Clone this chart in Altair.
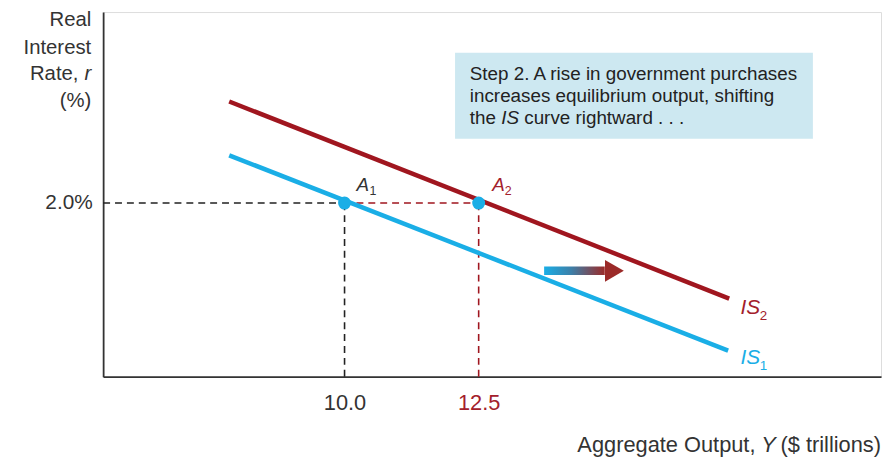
import altair as alt
import pandas as pd

# ---------------- data ----------------
x_domain = [5.5, 20.0]
y_domain = [0.0, 4.2]

is1_x = [7.85, 17.15]
is1_y = [2.55, 0.30]
is2_x = [7.85, 17.17]
is2_y = [3.17, 0.90]

eq_x = [10.0, 12.5]
eq_r = [2.0, 2.0]
eq_names = ["A", "A"]
eq_subs = ["1", "2"]

x_ticks = [10.0, 12.5]
y_ticks = [2.0]

box_x = [12.06, 18.73]
box_y = [2.74, 3.73]
box_lines = ["Step 2. A rise in government purchases",
             "increases equilibrium output, shifting"]
box_line_y = [3.49, 3.235]
box_last = ["the", "IS", "curve rightward . . ."]

arrow_x = [13.72, 14.85]
arrow_y = [1.17, 1.27]
arrow_head = [15.03, 1.22]

BLUE = "#1aaee6"
RED = "#a0161f"
RED_TXT = "#a3202b"
GREY = "#333333"
FONT = "Liberation Sans"
PXU = 785 / (x_domain[1] - x_domain[0])  # pixels per x unit

xs = alt.Scale(domain=x_domain, nice=False, zero=False)
ys = alt.Scale(domain=y_domain, nice=False, zero=False)

x_axis = alt.Axis(values=x_ticks, format=".1f", title=None, ticks=False, grid=False,
                  labelFontSize=22, labelFont=FONT, labelPadding=16,
                  labelColor=alt.condition("datum.value == 12.5", alt.value(RED_TXT), alt.value(GREY)),
                  domainColor=GREY, domainWidth=1.8)
y_axis = alt.Axis(values=y_ticks, labelExpr="format(datum.value, '.1f') + '%'", title=None,
                  ticks=False, grid=False, labelFontSize=21, labelFont=FONT, labelPadding=11,
                  labelColor=GREY, domainColor=GREY, domainWidth=1.8)


def X(f):
    return alt.X(f, type="quantitative", scale=xs, axis=x_axis)


def Y(f):
    return alt.Y(f, type="quantitative", scale=ys, axis=y_axis)


# box
box_df = pd.DataFrame({"x": [box_x[0]], "x2": [box_x[1]], "y": [box_y[0]], "y2": [box_y[1]]})
box = alt.Chart(box_df).mark_rect(color="#cde8f1").encode(x=X("x"), x2="x2", y=Y("y"), y2="y2")

BFS = 19
bx0 = box_x[0] + 0.275
box_txt_df = pd.DataFrame({"t": box_lines, "x": [bx0] * 2, "y": box_line_y})
box_txt = alt.Chart(box_txt_df).mark_text(align="left", baseline="middle", fontSize=BFS,
                                          font=FONT, color="#222222").encode(
    x=X("x"), y=Y("y"), text="t")

last_y = 2.98
w_the = (0.278 + 0.556 + 0.556 + 0.278) * BFS / PXU
w_is = (0.278 + 0.667 + 0.278) * BFS / PXU
last_df = pd.DataFrame({"t": box_last, "x": [bx0, bx0 + w_the, bx0 + w_the + w_is],
                        "y": [last_y] * 3, "st": ["normal", "italic", "normal"]})
last_norm = alt.Chart(last_df[last_df.st == "normal"]).mark_text(
    align="left", baseline="middle", fontSize=BFS, font=FONT, color="#222222").encode(
    x=X("x"), y=Y("y"), text="t")
last_it = alt.Chart(last_df[last_df.st == "italic"]).mark_text(
    align="left", baseline="middle", fontSize=BFS, font=FONT, fontStyle="italic", color="#222222").encode(
    x=X("x"), y=Y("y"), text="t")

# dashed guides
black_df = pd.DataFrame({"x": [x_domain[0], eq_x[0]], "x2": [eq_x[0], eq_x[0]],
                         "y": [eq_r[0], 0.0], "y2": [eq_r[0], eq_r[0]]})
red_df = pd.DataFrame({"x": [eq_x[0], eq_x[1]], "x2": [eq_x[1], eq_x[1]],
                       "y": [eq_r[1], 0.0], "y2": [eq_r[1], eq_r[1]]})
black_rules = alt.Chart(black_df).mark_rule(color="#222222", strokeWidth=1.6, strokeDash=[7, 5]).encode(
    x=X("x"), x2="x2", y=Y("y"), y2="y2")
red_rules = alt.Chart(red_df).mark_rule(color=RED, strokeWidth=1.6, strokeDash=[7, 5]).encode(
    x=X("x"), x2="x2", y=Y("y"), y2="y2")

# IS curves
is1 = alt.Chart(pd.DataFrame({"x": is1_x, "y": is1_y})).mark_line(
    color=BLUE, strokeWidth=4.5, strokeCap="butt").encode(x=X("x"), y=Y("y"))
is2 = alt.Chart(pd.DataFrame({"x": is2_x, "y": is2_y})).mark_line(
    color=RED, strokeWidth=4.5, strokeCap="butt").encode(x=X("x"), y=Y("y"))

# points
pts = alt.Chart(pd.DataFrame({"x": eq_x, "y": eq_r})).mark_circle(
    color=BLUE, size=170, opacity=1).encode(x=X("x"), y=Y("y"))

# point labels
lab_df = pd.DataFrame({"t": eq_names, "x": [10.34, 12.87], "y": [2.21, 2.21],
                       "c": [GREY, RED_TXT]})
sub_df = pd.DataFrame({"t": eq_subs, "x": [10.53, 13.05], "y": [2.135, 2.135],
                       "c": [GREY, RED_TXT]})
labs = alt.Chart(lab_df).mark_text(fontSize=19, font=FONT, fontStyle="italic", baseline="middle").encode(
    x=X("x"), y=Y("y"), text="t", color=alt.Color("c:N", scale=None))
subs = alt.Chart(sub_df).mark_text(fontSize=12.5, font=FONT, baseline="middle").encode(
    x=X("x"), y=Y("y"), text="t", color=alt.Color("c:N", scale=None))

# curve labels
is_lab_df = pd.DataFrame({"t": ["IS", "IS"], "x": [17.38, 17.38], "y": [0.79, 0.21],
                          "c": [RED_TXT, BLUE]})
is_sub_df = pd.DataFrame({"t": ["2", "1"], "x": [17.74, 17.74], "y": [0.70, 0.12],
                          "c": [RED_TXT, BLUE]})
is_labs = alt.Chart(is_lab_df).mark_text(fontSize=21, font=FONT, fontStyle="italic", baseline="middle",
                                         align="left").encode(
    x=X("x"), y=Y("y"), text="t", color=alt.Color("c:N", scale=None))
is_subs = alt.Chart(is_sub_df).mark_text(fontSize=13.5, font=FONT, baseline="middle", align="left").encode(
    x=X("x"), y=Y("y"), text="t", color=alt.Color("c:N", scale=None))

# arrow
arrow_df = pd.DataFrame({"x": [arrow_x[0]], "x2": [arrow_x[1]], "y": [arrow_y[0]], "y2": [arrow_y[1]]})
arrow_body = alt.Chart(arrow_df).mark_rect(
    color=alt.Gradient(gradient="linear",
                       stops=[alt.GradientStop(color="#19aee6", offset=0),
                              alt.GradientStop(color="#3d7fa8", offset=0.45),
                              alt.GradientStop(color="#9b2a28", offset=1)],
                       x1=0, x2=1, y1=0, y2=0)).encode(x=X("x"), x2="x2", y=Y("y"), y2="y2")
arrow_tip = alt.Chart(pd.DataFrame({"x": [arrow_head[0]], "y": [arrow_head[1]]})).mark_point(
    shape="triangle-right", filled=True, size=480, color="#9b2a28", opacity=1).encode(x=X("x"), y=Y("y"))

# axis titles
YFS = 20.5
yt_df = pd.DataFrame({"t": ["Real", "Interest", "Rate,", "(%)"],
                      "x": [5.278, 5.278, 5.04, 5.278],
                      "y": [4.11, 3.79, 3.485, 3.175]})
y_title = alt.Chart(yt_df).mark_text(align="right", baseline="middle", fontSize=YFS, font=FONT,
                                     color=GREY).encode(x=X("x"), y=Y("y"), text="t")
y_title_it = alt.Chart(pd.DataFrame({"t": ["r"], "x": [5.278], "y": [3.485]})).mark_text(
    align="right", baseline="middle", fontSize=YFS, font=FONT, fontStyle="italic", color=GREY).encode(
    x=X("x"), y=Y("y"), text="t")

XFS = 22
xt_df = pd.DataFrame({"t": ["Aggregate Output,", "($ trillions)"], "x": [17.66, 20.0], "y": [-0.79, -0.79]})
x_title = alt.Chart(xt_df).mark_text(align="right", baseline="middle", fontSize=XFS, font=FONT,
                                     color=GREY).encode(x=X("x"), y=Y("y"), text="t")
x_title_it = alt.Chart(pd.DataFrame({"t": ["Y"], "x": [18.04], "y": [-0.79]})).mark_text(
    align="right", baseline="middle", fontSize=XFS, font=FONT, fontStyle="italic", color=GREY).encode(
    x=X("x"), y=Y("y"), text="t")

chart = alt.layer(
    box, box_txt, last_norm, last_it,
    black_rules, red_rules, is1, is2, pts,
    labs, subs, is_labs, is_subs, arrow_body, arrow_tip,
    y_title, y_title_it, x_title, x_title_it,
).properties(
    width=785, height=368,
    autosize=alt.AutoSizeParams(type="none"),
    padding={"left": 96, "top": 2, "right": 3, "bottom": 85},
).configure_view(stroke=None).configure(background="white")

chart.save("out.html", embed_options={"renderer": "svg", "actions": False})
